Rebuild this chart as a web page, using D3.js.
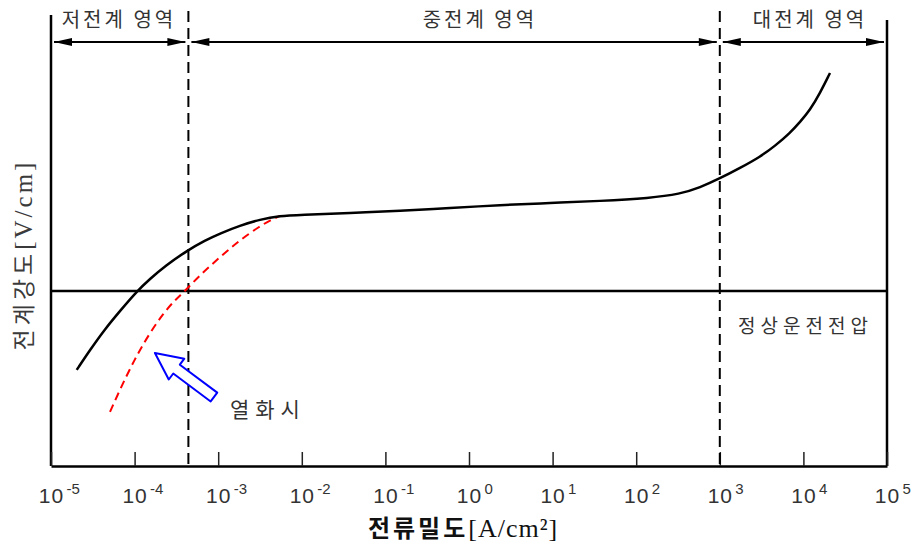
<!DOCTYPE html>
<html>
<head>
<meta charset="utf-8">
<script src="https://cdn.jsdelivr.net/npm/d3@7"></script>
<style>
body{margin:0;background:#fff;}
svg{display:block;}
</style>
</head>
<body>
<svg id="grafico" width="912" height="546"></svg>
<script>
//DATI

var esponenti = [-5, -4, -3, -2, -1, 0, 1, 2, 3, 4, 5];
var confini = [1e-5, 4.4e-4, 1e3, 1e5];
var regioni = ["저전계 영역", "중전계 영역", "대전계 영역"];
var centriRegioni = [6.5e-5, 1.35, 1.2e4];

// curva normale: densita di corrente [A/cm2] e campo (relativo alla tensione nominale)
var correnteNormale = [2.03e-5, 2.93e-5, 4.43e-5, 6.69e-5, 1.07e-4, 1.53e-4, 2.31e-4, 4.35e-4, 6.95e-4, 1.05e-3,
    1.82e-3, 3.16e-3, 5.48e-3, 9.5e-3, 0.0377, 0.15, 0.593, 2.35, 9.31, 36.9,
    146, 334, 580, 1000, 1745, 3027, 4571, 6915, 9106, 11990, 15800, 20810];
var campoNormale = [0.549, 0.663, 0.783, 0.886, 1.0, 1.069, 1.143, 1.234, 1.289, 1.329,
    1.374, 1.409, 1.429, 1.434, 1.446, 1.457, 1.474, 1.491, 1.503, 1.514,
    1.531, 1.554, 1.591, 1.643, 1.703, 1.766, 1.829, 1.903, 1.966, 2.034, 2.131, 2.246];

// curva dopo il degrado (열화시)
var correnteDegradata = [5.08e-5, 6.33e-5, 7.89e-5, 9.84e-5, 1.23e-4, 1.61e-4, 2.19e-4, 2.96e-4, 4.01e-4, 6.06e-4,
    1.05e-3, 1.82e-3, 3.16e-3, 4.17e-3, 5.48e-3];
var campoDegradato = [0.309, 0.411, 0.509, 0.6, 0.686, 0.777, 0.869, 0.943, 1.0, 1.091,
    1.194, 1.291, 1.371, 1.403, 1.429];

var tensioneNominale = 1.0;
var etichettaNominale = "정상운전전압";
var etichettaDegrado = "열화시";
var frecciaCoda = [8.9e-4, 0.394];
var frecciaPunta = [1.75e-4, 0.646];

var titoloX = ["전류밀도", "[A/cm²]"];
var titoloY = ["전계강도", "[V/cm]"];

//VARIABILI

var svg = d3.select("#grafico");

var x = d3.scaleLog().domain([1e-5, 1e5]).range([51, 887]);
var y = d3.scaleLinear().domain([0, 2.6]).range([466, 11]);

var fontKR = "'Noto Sans CJK KR', 'Noto Sans', sans-serif";
var grigio = "#333";

//FUNZIONI

function disegnaCornice(){

    // linee verticali laterali
    svg.append("line")
        .attr("x1", x(1e-5)).attr("x2", x(1e-5))
        .attr("y1", 15).attr("y2", y(0))
        .attr("stroke", "black").attr("stroke-width", 2.5);

    svg.append("line")
        .attr("x1", x(1e5)).attr("x2", x(1e5))
        .attr("y1", 20).attr("y2", y(0))
        .attr("stroke", "black").attr("stroke-width", 2.5);

    // asse x con tacche verso l'interno
    var asse = d3.axisBottom(x)
        .tickValues(esponenti.map(e => Math.pow(10, e)))
        .tickSizeInner(-14)
        .tickSizeOuter(0)
        .tickFormat("");

    var g = svg.append("g")
        .attr("transform", "translate(0," + y(0) + ")")
        .call(asse);

    g.select(".domain").attr("stroke", "black").attr("stroke-width", 2.5);
    g.selectAll(".tick line").attr("stroke", "#222").attr("stroke-width", 1.5);

    g.selectAll(".tick").each(function(d, i){

        var t = d3.select(this);
        t.append("text")
            .attr("x", 0).attr("y", 37)
            .attr("text-anchor", "middle")
            .style("font-family", "'Liberation Sans', Arial, sans-serif")
            .style("font-size", "21px")
            .style("letter-spacing", "1px")
            .attr("fill", grigio)
            .text("10");
        t.append("text")
            .attr("x", 15).attr("y", 28)
            .attr("text-anchor", "start")
            .style("font-family", "'Liberation Sans', Arial, sans-serif")
            .style("font-size", "15px")
            .attr("fill", grigio)
            .text(esponenti[i]);

    });

}

function disegnaRegioni(){

    // linee tratteggiate di confine
    svg.selectAll(".confine")
        .data(confini.slice(1, 3))
        .enter()
        .append("line")
        .attr("class", "confine")
        .attr("x1", d => x(d)).attr("x2", d => x(d))
        .attr("y1", 11).attr("y2", y(0))
        .attr("stroke", "black")
        .attr("stroke-width", 2)
        .attr("stroke-dasharray", "11,6");

    var yFreccia = 42;

    regioni.forEach((nome, i) => {

        var a = x(confini[i]) + 3;
        var b = x(confini[i + 1]) - 3;

        svg.append("line")
            .attr("x1", a).attr("x2", b)
            .attr("y1", yFreccia).attr("y2", yFreccia)
            .attr("stroke", "black").attr("stroke-width", 2);

        svg.append("path")
            .attr("d", "M" + a + "," + yFreccia + "L" + (a + 18) + "," + (yFreccia - 4) + "L" + (a + 18) + "," + (yFreccia + 4) + "Z")
            .attr("fill", "black");

        svg.append("path")
            .attr("d", "M" + b + "," + yFreccia + "L" + (b - 18) + "," + (yFreccia - 4) + "L" + (b - 18) + "," + (yFreccia + 4) + "Z")
            .attr("fill", "black");

        svg.append("text")
            .attr("x", x(centriRegioni[i]))
            .attr("y", 27)
            .attr("text-anchor", "middle")
            .style("font-family", fontKR)
            .style("font-size", "20px")
            .style("letter-spacing", "3px")
            .attr("fill", grigio)
            .text(nome);

    });

}

function disegnaCurve(){

    // tensione di esercizio
    svg.append("line")
        .attr("x1", x(1e-5)).attr("x2", x(1e5))
        .attr("y1", y(tensioneNominale)).attr("y2", y(tensioneNominale))
        .attr("stroke", "black").attr("stroke-width", 2.5);

    svg.append("text")
        .attr("x", 738)
        .attr("y", y(tensioneNominale) + 42)
        .style("font-family", fontKR)
        .style("font-size", "19px")
        .style("letter-spacing", "5px")
        .attr("fill", grigio)
        .text(etichettaNominale);

    var linea = d3.line()
        .x(d => x(d[0]))
        .y(d => y(d[1]))
        .curve(d3.curveBasis);

    var datiNormali = correnteNormale.map((c, i) => [c, campoNormale[i]]);
    var datiDegradati = correnteDegradata.map((c, i) => [c, campoDegradato[i]]);

    svg.append("path")
        .datum(datiDegradati)
        .attr("d", linea)
        .attr("fill", "none")
        .attr("stroke", "#ff0000")
        .attr("stroke-width", 2)
        .attr("stroke-dasharray", "8,5");

    svg.append("path")
        .datum(datiNormali)
        .attr("d", linea)
        .attr("fill", "none")
        .attr("stroke", "black")
        .attr("stroke-width", 2.5);

}

function disegnaFreccia(){

    var px = x(frecciaPunta[0]), py = y(frecciaPunta[1]);
    var cx = x(frecciaCoda[0]), cy = y(frecciaCoda[1]);
    var lung = Math.hypot(px - cx, py - cy);
    var ux = (px - cx) / lung, uy = (py - cy) / lung;
    var nx = -uy, ny = ux;
    var testa = 27, ali = 13, fusto = 5.5;
    var bx = px - testa * ux, by = py - testa * uy;

    var punti = [
        [px, py],
        [bx + ali * nx, by + ali * ny],
        [bx + fusto * nx, by + fusto * ny],
        [cx + fusto * nx, cy + fusto * ny],
        [cx - fusto * nx, cy - fusto * ny],
        [bx - fusto * nx, by - fusto * ny],
        [bx - ali * nx, by - ali * ny]
    ];

    svg.append("polygon")
        .attr("points", punti.map(p => p.join(",")).join(" "))
        .attr("fill", "white")
        .attr("stroke", "#0000ff")
        .attr("stroke-width", 2)
        .attr("stroke-linejoin", "round");

    svg.append("text")
        .attr("x", cx + 16)
        .attr("y", cy + 20)
        .style("font-family", fontKR)
        .style("font-size", "21px")
        .style("letter-spacing", "6px")
        .attr("fill", grigio)
        .text(etichettaDegrado);

}

function disegnaTitoli(){

    var tx = svg.append("text")
        .attr("x", 463)
        .attr("y", 537)
        .attr("text-anchor", "middle")
        .attr("fill", "#111");
    tx.append("tspan")
        .style("font-family", fontKR)
        .style("font-weight", "700")
        .style("font-size", "24px")
        .style("letter-spacing", "3px")
        .text(titoloX[0]);
    tx.append("tspan")
        .style("font-family", "'Liberation Serif', serif")
        .style("font-size", "26px")
        .style("letter-spacing", "1px")
        .text(titoloX[1]);

    var ty = svg.append("text")
        .attr("transform", "translate(32,255) rotate(-90)")
        .attr("text-anchor", "middle")
        .attr("fill", "#3a3a3a");
    ty.append("tspan")
        .style("font-family", fontKR)
        .style("font-size", "23px")
        .style("letter-spacing", "4px")
        .text(titoloY[0]);
    ty.append("tspan")
        .style("font-family", "'Liberation Serif', serif")
        .style("font-size", "25px")
        .style("letter-spacing", "3px")
        .text(titoloY[1]);

}

function inizializzazione(){

    console.log("inizializzazione");
    disegnaCornice();
    disegnaRegioni();
    disegnaCurve();
    disegnaFreccia();
    disegnaTitoli();

}

inizializzazione();
</script>
</body>
</html>
